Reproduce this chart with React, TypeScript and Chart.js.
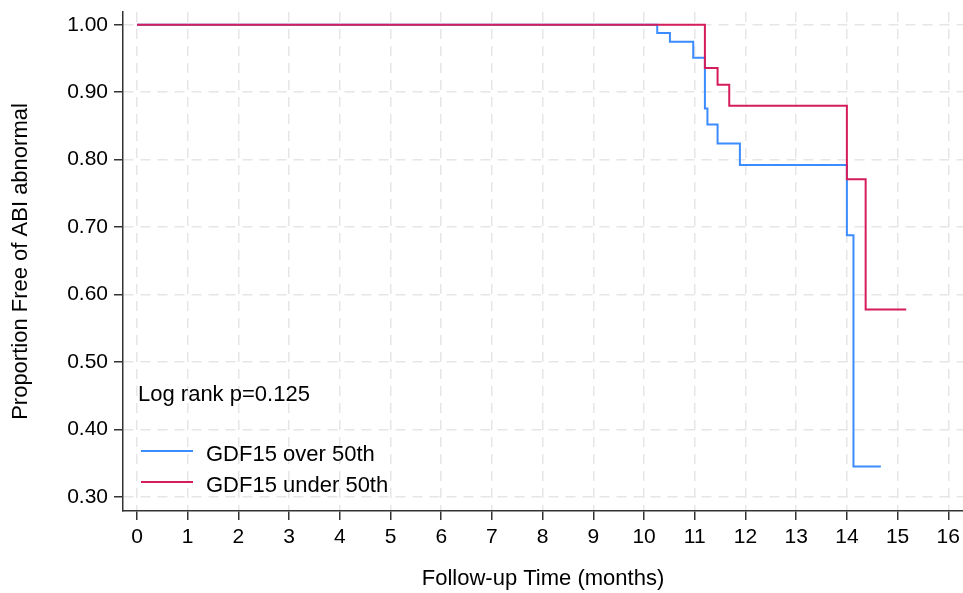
import React, { useEffect, useRef } from "react";
import { Chart, registerables } from "chart.js";

Chart.register(...registerables);

const blueLabel = "GDF15 over 50th";
const redLabel = "GDF15 under 50th";
const blueTimes = [0, 10.26, 10.51, 10.97, 11.2, 11.25, 11.45, 11.89, 14.0, 14.13, 14.67];
const blueSurv = [1.0, 0.988, 0.975, 0.951, 0.876, 0.852, 0.824, 0.792, 0.688, 0.345, 0.345];
const redTimes = [0, 11.2, 11.45, 11.68, 14.0, 14.37, 15.17];
const redSurv = [1.0, 0.936, 0.911, 0.88, 0.771, 0.578, 0.578];
const xTicks = [0, 1, 2, 3, 4, 5, 6, 7, 8, 9, 10, 11, 12, 13, 14, 15, 16];
const yTicks = [0.3, 0.4, 0.5, 0.6, 0.7, 0.8, 0.9, 1.0];
const annotationText = "Log rank p=0.125";
const xTitle = "Follow-up Time (months)";
const yTitle = "Proportion Free of ABI abnormal";

const BLUE = "#3a8cff";
const RED = "#d41d5a";
const TEXT = "#000";
const FONT = "'Liberation Sans', Arial, Helvetica, sans-serif";

const overlayPlugin = {
  id: "overlay",
  afterDatasetsDraw(chart: any) {
    const ctx = chart.ctx;
    ctx.save();
    ctx.fillStyle = TEXT;
    ctx.font = `22px ${FONT}`;
    ctx.textAlign = "left";
    ctx.textBaseline = "alphabetic";
    ctx.fillText(annotationText, 138, 401);
    const items = [
      { label: blueLabel, color: BLUE, y: 451 },
      { label: redLabel, color: RED, y: 482 },
    ];
    items.forEach((it) => {
      ctx.strokeStyle = it.color;
      ctx.lineWidth = 2;
      ctx.beginPath();
      ctx.moveTo(141, it.y);
      ctx.lineTo(193, it.y);
      ctx.stroke();
      ctx.fillStyle = TEXT;
      ctx.fillText(it.label, 206, it.y + 9.5);
    });
    ctx.restore();
  },
};

export default function App() {
  const ref = useRef<HTMLCanvasElement | null>(null);
  useEffect(() => {
    if (!ref.current) return;
    const chart = new Chart(ref.current, {
      type: "scatter",
      data: {
        datasets: [
          {
            label: blueLabel,
            data: blueTimes.map((t, i) => ({ x: t, y: blueSurv[i] })),
            borderColor: BLUE,
            backgroundColor: BLUE,
            borderWidth: 2,
            showLine: true,
            stepped: "before",
            pointRadius: 0,
            order: 1,
          },
          {
            label: redLabel,
            data: redTimes.map((t, i) => ({ x: t, y: redSurv[i] })),
            borderColor: RED,
            backgroundColor: RED,
            borderWidth: 2,
            showLine: true,
            stepped: "before",
            pointRadius: 0,
            order: 0,
          },
        ],
      },
      options: {
        responsive: false,
        animation: false,
        devicePixelRatio: 1,
        layout: { padding: { top: 12, right: 0, left: 0, bottom: 0 } },
        plugins: {
          legend: { display: false },
          tooltip: { enabled: false },
        },
        scales: {
          x: {
            type: "linear",
            min: -0.276,
            max: 16.29,
            afterBuildTicks: (s: any) => {
              s.ticks = xTicks.map((v) => ({ value: v }));
            },
            afterFit: (s: any) => {
              s.height = 82;
              s.paddingLeft = 0;
              s.paddingRight = 0;
            },
            grid: {
              color: "#e6e6e6",
              lineWidth: 1.5,
              tickColor: "#333",
              tickLength: 9,
              tickWidth: 1.5,
            },
            border: { color: "#333", width: 1.5, dash: [10, 7] },
            ticks: {
              color: TEXT,
              font: { family: FONT, size: 21 },
              padding: 5,
              maxRotation: 0,
              callback: (v: any) => String(v),
            },
            title: {
              display: true,
              text: xTitle,
              color: TEXT,
              font: { family: FONT, size: 22, lineHeight: 1.2 },
              padding: { top: 0, bottom: 1 },
            },
          },
          y: {
            type: "linear",
            min: 0.279,
            max: 1.019,
            afterBuildTicks: (s: any) => {
              s.ticks = yTicks.map((v) => ({ value: v }));
            },
            afterFit: (s: any) => {
              s.width = 123;
              s.paddingTop = 0;
              s.paddingBottom = 0;
            },
            grid: {
              color: "#e6e6e6",
              lineWidth: 1.5,
              tickColor: "#333",
              tickLength: 9,
              tickWidth: 1.5,
            },
            border: { color: "#333", width: 1.5, dash: [10, 7] },
            ticks: {
              color: TEXT,
              font: { family: FONT, size: 21 },
              padding: 6,
              callback: (v: any) => Number(v).toFixed(2),
            },
            title: {
              display: true,
              text: yTitle,
              color: TEXT,
              font: { family: FONT, size: 22, lineHeight: 1.2 },
              padding: { top: 8, bottom: 0 },
            },
          },
        },
      },
      plugins: [overlayPlugin],
    } as any);
    return () => chart.destroy();
  }, []);
  return (
    <div style={{ position: "absolute", left: 0, top: 0, width: 963, height: 593, background: "#fff" }}>
      <canvas ref={ref} width={963} height={593} />
    </div>
  );
}
